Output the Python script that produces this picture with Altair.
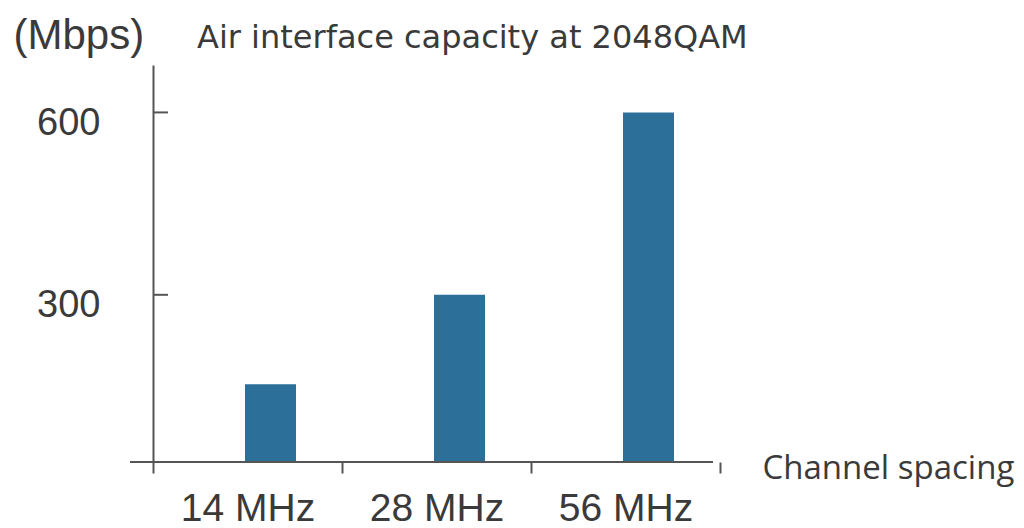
import altair as alt
import pandas as pd

categories = ["14 MHz", "28 MHz", "56 MHz"]
capacity = [153, 300, 600]
y_ticks = [300, 600]

bars_df = pd.DataFrame({"spacing": categories, "capacity": capacity})
ticks_df = pd.DataFrame({"v": y_ticks})
title_df = pd.DataFrame({"t": ["Air interface capacity at 2048QAM"]})

TXT = "#3a3a3a"
AX = "#555555"

x_enc = alt.X(
    "spacing:N",
    sort=categories,
    scale=alt.Scale(paddingInner=0, paddingOuter=0),
    axis=alt.Axis(
        title="Channel spacing",
        titleFont="Open Sans",
        titleFontSize=33,
        titleFontWeight="normal",
        titleColor=TXT,
        titleAnchor="start",
        titleAlign="left",
        titleBaseline="alphabetic",
        titleX=609,
        titleY=16,
        labelAngle=0,
        labelFont="Liberation Sans",
        labelFontSize=39,
        labelColor=TXT,
        labelBaseline="alphabetic",
        labelPadding=47,
        domain=False,
        ticks=True,
        tickBand="extent",
        tickSize=11,
        tickColor=AX,
        tickWidth=2,
        grid=False,
    ),
)

y_scale = alt.Scale(domain=[25, 678], zero=False, nice=False)

bars = alt.Chart(bars_df).mark_bar(width=51, xOffset=23, color="#2C7099", clip=True).encode(
    x=x_enc,
    y=alt.Y(
        "capacity:Q",
        scale=y_scale,
        axis=alt.Axis(
            values=y_ticks,
            title="(Mbps)",
            titleAngle=0,
            titleFont="Liberation Sans",
            titleFontSize=42,
            titleFontWeight="normal",
            titleColor=TXT,
            titleAlign="left",
            titleBaseline="middle",
            titleX=-140,
            titleY=-30,
            labelFont="Liberation Sans",
            labelFontSize=38,
            labelColor=TXT,
            labelPadding=53,
            labelOffset=11,
            ticks=False,
            domain=True,
            domainColor=AX,
            domainWidth=2,
            grid=False,
        ),
    ),
)

yticks = alt.Chart(ticks_df).mark_rule(color=AX, strokeWidth=2).encode(
    y=alt.Y("v:Q", scale=y_scale),
    x=alt.value(0),
    x2=alt.value(15),
)

xdomain = alt.Chart(title_df).mark_rule(color=AX, strokeWidth=2).encode(
    x=alt.value(-23),
    x2=alt.value(560),
    y=alt.value(397),
)

title = alt.Chart(title_df).mark_text(
    font="DejaVu Sans", fontSize=32, color=TXT, align="left", baseline="alphabetic"
).encode(text="t:N", x=alt.value(44), y=alt.value(-17))

chart = alt.layer(bars, yticks, xdomain, title).properties(
    width=567,
    height=397,
    autosize="none",
    padding={"left": 153, "top": 65, "right": 304, "bottom": 66},
).configure_view(stroke=None)

chart.save("out.html", embed_options={"renderer": "svg", "actions": False})
